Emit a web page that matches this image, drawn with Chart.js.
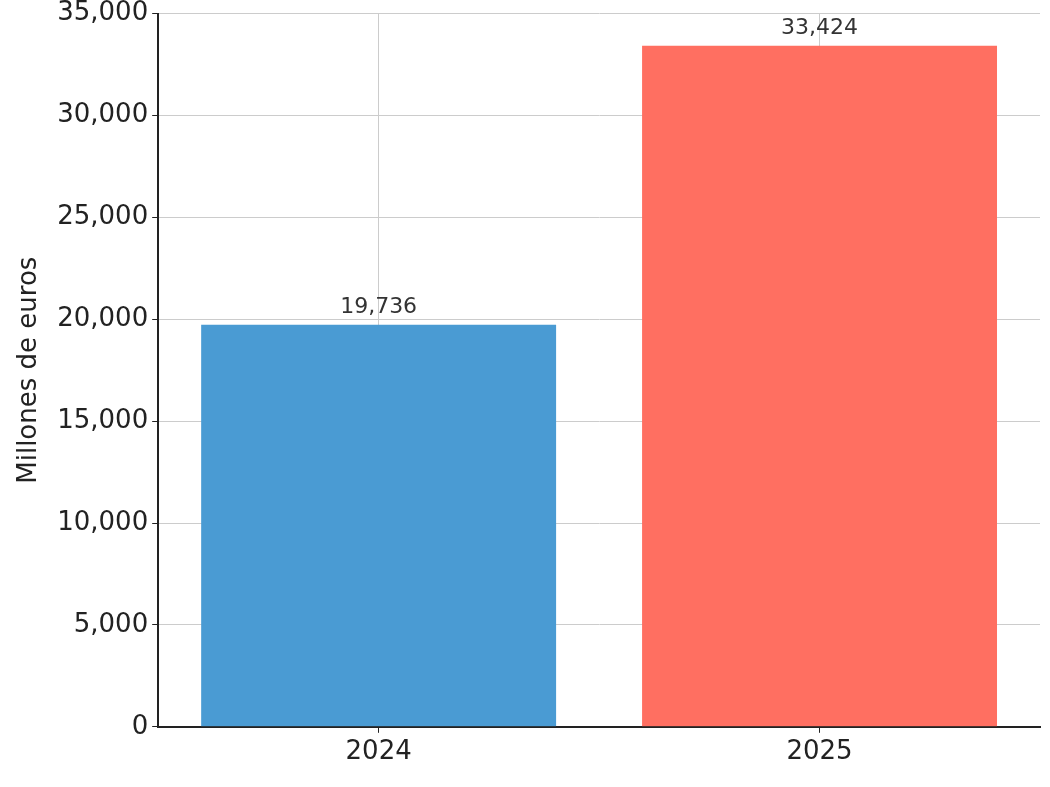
<!DOCTYPE html>
<html>
<head>
<meta charset="utf-8">
<script src="https://cdn.jsdelivr.net/npm/chart.js@4"></script>
<style>
  html, body { margin: 0; padding: 0; background: #fff; overflow: hidden; }
  #wrap { position: relative; width: 1050px; height: 800px; margin-top: -6px; }
</style>
</head>
<body>
<div id="wrap"><canvas id="graf"></canvas></div>
<script>
const anos = ['2024', '2025'];
const valores = [19736, 33424];
const cores = ['#4a9bd3', '#ff6f61'];
const TEXTO = '#222222';

// rótulo do valor em cima de cada barra
const rotulosValor = {
  id: 'rotulosValor',
  afterDatasetsDraw(chart) {
    const ctx = chart.ctx;
    const meta = chart.getDatasetMeta(0);
    ctx.save();
    ctx.font = '22px "DejaVu Sans"';
    ctx.fillStyle = '#333';
    ctx.textAlign = 'center';
    ctx.textBaseline = 'bottom';
    meta.data.forEach((bar, i) => {
      ctx.fillText(valores[i].toLocaleString('en-US'), bar.x, bar.y - 6);
    });
    ctx.restore();
  }
};

new Chart(document.getElementById('graf'), {
  type: 'bar',
  data: {
    labels: anos,
    datasets: [{ data: valores, backgroundColor: cores, categoryPercentage: 1, barPercentage: 0.805 }]
  },
  options: {
    responsive: true, maintainAspectRatio: false, animation: false,
    layout: { padding: { top: 0, right: 10, left: 6, bottom: 22 } },
    plugins: { legend: { display: false }, tooltip: { enabled: false } },
    scales: {
      x: {
        grid: { color: '#cccccc', borderDash: [5, 4], tickColor: TEXTO, tickLength: 6, offset: false },
        border: { color: TEXTO, width: 2 },
        ticks: { color: TEXTO, font: { family: 'DejaVu Sans', size: 26 }, padding: 4 }
      },
      y: {
        min: 0, max: 35000,
        grid: { color: '#cccccc', borderDash: [5, 4], tickColor: TEXTO, tickLength: 6 },
        border: { color: TEXTO, width: 2 },
        ticks: { stepSize: 5000, color: TEXTO, font: { family: 'DejaVu Sans', size: 26 }, padding: 4 },
        title: { display: true, text: 'Millones de euros', color: TEXTO, font: { family: 'DejaVu Sans', size: 26 }, padding: 8 }
      }
    }
  },
  plugins: [rotulosValor]
});
</script>
</body>
</html>
